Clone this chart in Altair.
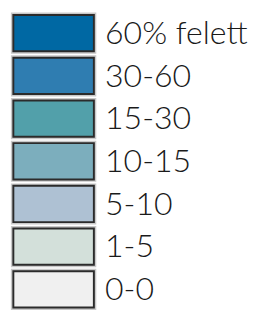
import altair as alt
import pandas as pd

labels = ["60% felett", "30-60", "15-30", "10-15", "5-10", "1-5", "0-0"]
colors = ["#0068a3", "#2f7db1", "#52a0aa", "#7caebd", "#aec1d3", "#d3e0da", "#f0f0f0"]

df = pd.DataFrame({"label": labels})

def yscale():
    return alt.Scale(domain=labels, range=[2.5, 304], paddingInner=0.15, paddingOuter=0)

yenc = alt.Y("label:N", sort=labels, axis=None, scale=yscale())
cenc = alt.Color("label:N", scale=alt.Scale(domain=labels, range=colors), legend=None)

outer = alt.Chart(df).mark_rect(stroke="#c9c9c9", strokeWidth=5).encode(
    y=yenc, x=alt.value(5.5), x2=alt.value(88.5), color=cenc)
inner = alt.Chart(df).mark_rect(stroke="#2b2b2b", strokeWidth=2).encode(
    y=yenc, x=alt.value(5.5), x2=alt.value(88.5), color=cenc)
text = alt.Chart(df).mark_text(align="left", baseline="middle", font="Lato", fontSize=33,
                               fontWeight=300, color="#1a1a1a", dy=1).encode(
    y=alt.Y("label:N", sort=labels, axis=None, scale=yscale(), bandPosition=0.5),
    x=alt.value(100), text="label:N")

chart = alt.layer(outer, inner, text).properties(
    width=269, height=308, autosize=alt.AutoSizeParams(type="none"), padding=0
).configure_view(stroke=None)

chart.save("out.html", embed_options={"renderer": "svg", "actions": False})
